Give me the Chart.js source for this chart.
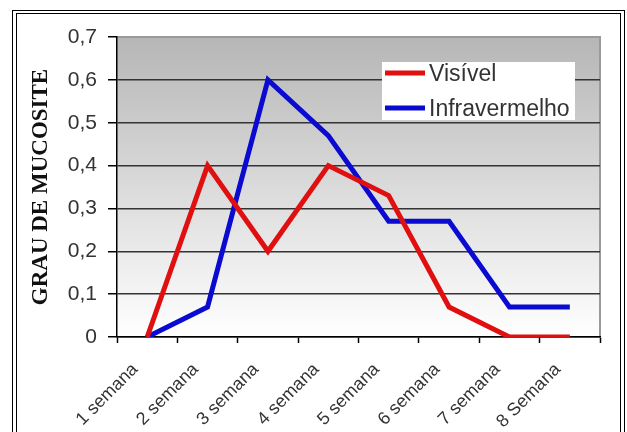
<!DOCTYPE html>
<html lang="pt">
<head>
<meta charset="UTF-8" />
<title>Grau de mucosite</title>
<style>
  html, body {
    margin: 0;
    padding: 0;
    background: #fff;
    overflow: hidden;
  }
  #wrap {
    position: relative;
    width: 627px;
    height: 432px;
  }
  canvas {
    position: absolute;
    left: 0;
    top: 0;
  }
  /* moldura dupla em volta da figura */
  .frame {
    position: absolute;
    box-sizing: border-box;
    border: 1px solid #000;
    pointer-events: none;
  }
  #frame-out { left: 12px; top: 10px; width: 613px; height: 500px; }
  #frame-in  { left: 16px; top: 13px; width: 605px; height: 500px; }
</style>
</head>
<body>
<div id="wrap">
  <canvas id="chart" width="627" height="432"></canvas>
  <div class="frame" id="frame-out"></div>
  <div class="frame" id="frame-in"></div>
</div>

<script src="https://cdn.jsdelivr.net/npm/chart.js"></script>
<script>
  // dados
  const semanas = ['1 semana', '2 semana', '3 semana', '4 semana', '5 semana', '6 semana', '7 semana', '8 Semana'];
  const visivel = [0, 0.4, 0.2, 0.4, 0.33, 0.07, 0, 0];
  const infravermelho = [0, 0.07, 0.6, 0.47, 0.27, 0.27, 0.07, 0.07];
  const yTickLabels = ['0', '0,1', '0,2', '0,3', '0,4', '0,5', '0,6', '0,7'];

  const SANS = "'Liberation Sans', Arial, sans-serif";
  const SERIF = "'Liberation Serif', 'Times New Roman', serif";

  // fundo em degradê da área do gráfico + borda cinza
  const plotBackground = {
    id: 'plotBackground',
    beforeDraw(chart) {
      const { ctx, chartArea: a } = chart;
      const g = ctx.createLinearGradient(0, a.top, 0, a.bottom);
      g.addColorStop(0, '#b6b6b6');
      g.addColorStop(1, '#ffffff');
      ctx.save();
      ctx.fillStyle = g;
      ctx.fillRect(a.left, a.top, a.right - a.left, a.bottom - a.top);
      ctx.strokeStyle = '#9a9a9a';
      ctx.lineWidth = 2;
      ctx.beginPath();
      ctx.moveTo(a.left, a.top);
      ctx.lineTo(a.right, a.top);
      ctx.lineTo(a.right, a.bottom);
      ctx.stroke();
      ctx.restore();
    }
  };

  // legenda dentro da área do gráfico (caixa branca)
  const boxLegend = {
    id: 'boxLegend',
    afterDatasetsDraw(chart) {
      const ctx = chart.ctx;
      const x0 = 382, y0 = 62, w = 193, h = 58;
      ctx.save();
      ctx.fillStyle = '#fff';
      ctx.fillRect(x0, y0, w, h);
      ctx.font = '23px ' + SANS;
      ctx.textBaseline = 'middle';
      ctx.textAlign = 'left';
      chart.data.datasets.forEach((ds, i) => {
        const y = y0 + 11 + i * 35;
        ctx.strokeStyle = ds.borderColor;
        ctx.lineWidth = 5;
        ctx.beginPath();
        ctx.moveTo(x0 + 3, y);
        ctx.lineTo(x0 + 43, y);
        ctx.stroke();
        ctx.fillStyle = '#333';
        ctx.fillText(ds.label, x0 + 47, y + 2);
      });
      ctx.restore();
    }
  };

  const ctx = document.getElementById('chart').getContext('2d');
  const chart = new Chart(ctx, {
    type: 'line',
    data: {
      labels: semanas,
      datasets: [
        {
          label: 'Visível',
          data: visivel,
          borderColor: '#e01010',
          borderWidth: 5,
          tension: 0,
          pointRadius: 0,
          borderJoinStyle: 'miter',
          borderCapStyle: 'butt',
          fill: false,
          order: 1
        },
        {
          label: 'Infravermelho',
          data: infravermelho,
          borderColor: '#0a0ad0',
          borderWidth: 5,
          tension: 0,
          pointRadius: 0,
          borderJoinStyle: 'miter',
          borderCapStyle: 'butt',
          fill: false,
          order: 2
        }
      ]
    },
    options: {
      responsive: false,
      animation: false,
      layout: {
        padding: { top: 37, right: 27, bottom: 0, left: 0 }
      },
      plugins: {
        legend: { display: false },
        tooltip: { enabled: false }
      },
      scales: {
        x: {
          offset: true,
          afterFit(scale) { scale.height = 95; },
          grid: {
            offset: true,
            drawOnChartArea: false,
            drawTicks: true,
            tickLength: 6,
            tickColor: '#000',
            tickWidth: 1.5
          },
          border: { color: '#000', width: 1.5 },
          ticks: {
            minRotation: 45,
            maxRotation: 45,
            autoSkip: false,
            padding: 16,
            labelOffset: -12,
            color: '#333',
            font: { family: SANS, size: 18 }
          }
        },
        y: {
          min: 0,
          max: 0.7,
          afterFit(scale) { scale.width = 117; },
          grid: {
            color: (c) => (c.tick && c.tick.value >= 0.69 ? 'rgba(0,0,0,0)' : '#333'),
            lineWidth: 1.5,
            tickLength: 9,
            tickColor: '#000',
            tickWidth: 1.5
          },
          border: { color: '#000', width: 1.5 },
          ticks: {
            stepSize: 0.1,
            padding: 11,
            color: '#333',
            font: { family: SANS, size: 21 },
            callback: (v, i) => yTickLabels[i]
          },
          title: {
            display: true,
            text: 'GRAU DE MUCOSITE',
            color: '#111',
            font: { family: SERIF, size: 23, weight: 'bold' },
            padding: { top: 27, bottom: 0 }
          }
        }
      }
    },
    plugins: [plotBackground, boxLegend]
  });
</script>
</body>
</html>
